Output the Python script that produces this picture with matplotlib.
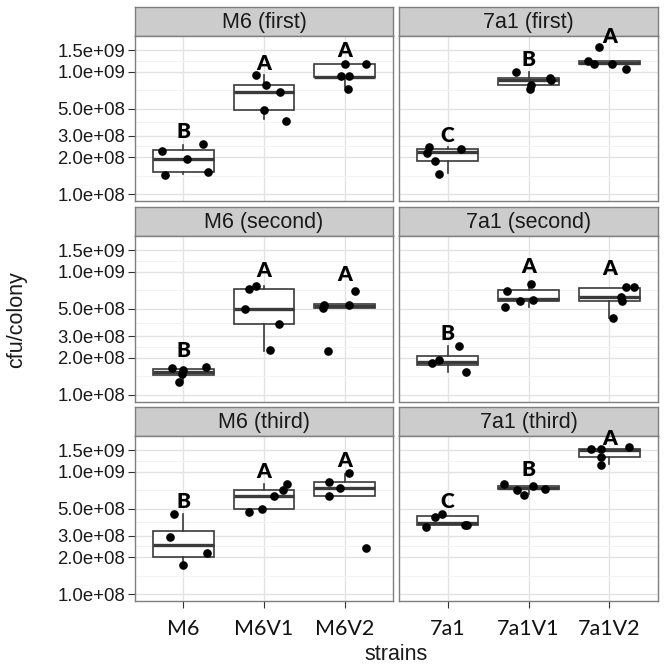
import numpy as np
import matplotlib
matplotlib.use('Agg')
import matplotlib.pyplot as plt
from matplotlib.ticker import NullFormatter, FixedLocator

# ---------------- data ----------------
strains_left = ['M6', 'M6V1', 'M6V2']
strains_right = ['7a1', '7a1V1', '7a1V2']
titles_left = ['M6 (first)', 'M6 (second)', 'M6 (third)']
titles_right = ['7a1 (first)', '7a1 (second)', '7a1 (third)']
ytick_values = [1.0e8, 2.0e8, 3.0e8, 5.0e8, 1.0e9, 1.5e9]
ytick_labels = ['1.0e+08', '2.0e+08', '3.0e+08', '5.0e+08', '1.0e+09', '1.5e+09']
x_title = 'strains'
y_title = 'cfu/colony'

# box stats per group: (whisker low, q1, median, q3, whisker high)
m6_first_box = [(1.46e8, 1.50e8, 1.93e8, 2.28e8, 2.51e8),
                (4.08e8, 4.83e8, 6.78e8, 7.78e8, 9.39e8),
                (7.45e8, 9.04e8, 9.10e8, 1.148e9, 1.16e9)]
m6_first_pts = [[2.26e8, 2.55e8, 1.93e8, 1.43e8, 1.50e8],
                [9.39e8, 7.78e8, 6.78e8, 4.83e8, 3.97e8],
                [1.148e9, 1.16e9, 9.16e8, 9.16e8, 7.21e8]]
m6_first_jit = [[-0.27, 0.24, 0.05, -0.23, 0.30],
                [-0.10, 0.02, 0.20, 0.00, 0.27],
                [0.00, 0.27, -0.05, 0.05, 0.04]]
m6_first_let = ['B', 'A', 'A']
m6_first_lety = [3.24e8, 1.17e9, 1.50e9]

a7_first_box = [(1.476e8, 1.88e8, 2.19e8, 2.32e8, 2.42e8),
                (7.30e8, 7.73e8, 8.55e8, 8.93e8, 9.87e8),
                (1.155e9, 1.155e9, 1.19e9, 1.23e9, 1.23e9)]
a7_first_pts = [[2.44e8, 2.15e8, 2.32e8, 1.87e8, 1.45e8],
                [9.87e8, 8.88e8, 8.55e8, 7.73e8, 7.18e8],
                [1.60e9, 1.23e9, 1.155e9, 1.16e9, 1.045e9]]
a7_first_jit = [[-0.23, -0.26, 0.17, -0.16, -0.11],
                [-0.16, 0.27, 0.28, 0.03, 0.02],
                [-0.13, -0.26, -0.19, 0.03, 0.21]]
a7_first_let = ['C', 'B', 'A']
a7_first_lety = [3.03e8, 1.26e9, 1.93e9]

m6_second_box = [(1.30e8, 1.466e8, 1.55e8, 1.64e8, 1.64e8),
                 (2.29e8, 3.78e8, 5.01e8, 7.31e8, 7.64e8),
                 (5.08e8, 5.08e8, 5.24e8, 5.45e8, 5.45e8)]
m6_second_pts = [[1.645e8, 1.59e8, 1.475e8, 1.70e8, 1.277e8],
                 [7.31e8, 7.64e8, 5.01e8, 3.78e8, 2.30e8],
                 [5.08e8, 5.37e8, 5.34e8, 7.00e8, 2.28e8]]
m6_second_jit = [[-0.14, 0.00, -0.02, 0.28, -0.06],
                 [-0.19, -0.10, -0.24, 0.19, 0.08],
                 [-0.27, -0.25, 0.06, 0.13, -0.21]]
m6_second_let = ['B', 'A', 'A']
m6_second_lety = [2.29e8, 1.02e9, 9.57e8]

a7_second_box = [(1.55e8, 1.757e8, 1.86e8, 2.06e8, 2.48e8),
                 (5.18e8, 5.79e8, 5.98e8, 7.08e8, 8.03e8),
                 (4.24e8, 5.83e8, 6.25e8, 7.45e8, 7.45e8)]
a7_second_pts = [[1.82e8, 1.93e8, 2.50e8, 1.535e8],
                 [7.04e8, 7.93e8, 5.83e8, 5.87e8, 5.15e8],
                 [7.54e8, 7.54e8, 6.25e8, 5.80e8, 4.24e8]]
a7_second_jit = [[-0.19, -0.10, 0.14, 0.23],
                 [-0.26, 0.03, -0.10, 0.05, -0.29],
                 [0.21, 0.30, 0.14, 0.15, 0.05]]
a7_second_let = ['B', 'A', 'A']
a7_second_lety = [3.17e8, 1.11e9, 1.065e9]

m6_third_box = [(1.73e8, 2.02e8, 2.53e8, 3.29e8, 4.51e8),
                (4.98e8, 4.98e8, 6.37e8, 7.08e8, 7.87e8),
                (6.37e8, 6.37e8, 7.31e8, 8.28e8, 9.57e8)]
m6_third_pts = [[4.54e8, 2.94e8, 2.15e8, 1.72e8],
                [7.87e8, 7.04e8, 6.37e8, 4.98e8, 4.65e8],
                [9.69e8, 8.28e8, 7.31e8, 6.37e8, 2.39e8]]
m6_third_jit = [[-0.12, -0.16, 0.29, 0.00],
                [0.29, 0.23, 0.13, -0.02, -0.19],
                [0.06, -0.19, -0.06, -0.19, 0.27]]
m6_third_let = ['B', 'A', 'A']
m6_third_lety = [5.69e8, 1.0e9, 1.245e9]

a7_third_box = [(3.67e8, 3.67e8, 3.78e8, 4.34e8, 4.34e8),
                (6.60e8, 7.17e8, 7.35e8, 7.59e8, 7.70e8),
                (1.155e9, 1.31e9, 1.50e9, 1.54e9, 1.54e9)]
a7_third_pts = [[4.29e8, 4.48e8, 3.55e8, 3.69e8, 3.67e8],
                [7.87e8, 7.13e8, 6.49e8, 7.62e8, 7.26e8],
                [1.54e9, 1.53e9, 1.32e9, 1.14e9, 1.58e9]]
a7_third_jit = [[-0.16, -0.07, -0.27, 0.22, 0.24],
                [-0.30, -0.14, -0.06, 0.05, 0.21],
                [-0.23, -0.11, -0.10, -0.11, 0.24]]
a7_third_let = ['C', 'B', 'A']
a7_third_lety = [5.69e8, 1.045e9, 1.87e9]

ylim = (8.77e7, 1.96e9)

# ---------------- layout ----------------
FW = FH = 667.0
fig = plt.figure(figsize=(6.67, 6.67), dpi=100)
fig.patch.set_facecolor('white')

col_x = [(135, 393), (399, 658)]
rows = [(7, 36, 201), (207, 236, 402), (407, 436, 601)]  # strip top, panel top, panel bottom

SANS = ['Liberation Sans', 'DejaVu Sans']
LABF = ['Lato', 'DejaVu Sans']
GRAY50 = '#7f7f7f'
BOXC = '#3a3a3a'

panels = [
    [(m6_first_box, m6_first_pts, m6_first_jit, m6_first_let, m6_first_lety),
     (a7_first_box, a7_first_pts, a7_first_jit, a7_first_let, a7_first_lety)],
    [(m6_second_box, m6_second_pts, m6_second_jit, m6_second_let, m6_second_lety),
     (a7_second_box, a7_second_pts, a7_second_jit, a7_second_let, a7_second_lety)],
    [(m6_third_box, m6_third_pts, m6_third_jit, m6_third_let, m6_third_lety),
     (a7_third_box, a7_third_pts, a7_third_jit, a7_third_let, a7_third_lety)],
]
titles = [[titles_left[i], titles_right[i]] for i in range(3)]
strains = [strains_left, strains_right]

logt = np.log10(ytick_values)
minor_vals = [10 ** ((logt[i] + logt[i + 1]) / 2) for i in range(len(logt) - 1)]

for r, (st, pt, pb) in enumerate(rows):
    for c, (x0, x1) in enumerate(col_x):
        box, pts, jit, lets, lety = panels[r][c]
        ax = fig.add_axes([x0 / FW, 1 - pb / FH, (x1 - x0) / FW, (pb - pt) / FH])
        ax.set_facecolor('white')
        ax.set_yscale('log')

        stats = []
        for (wl, q1, med, q3, wh) in box:
            stats.append(dict(whislo=wl, q1=q1, med=med, q3=q3, whishi=wh, fliers=[]))
        ax.bxp(stats, positions=[1, 2, 3], widths=0.75, showfliers=False, showcaps=False,
               patch_artist=True, manage_ticks=False,
               boxprops=dict(facecolor='white', edgecolor=BOXC, linewidth=1.2),
               medianprops=dict(color=BOXC, linewidth=2.4, solid_capstyle='butt'),
               whiskerprops=dict(color=BOXC, linewidth=1.2), zorder=2)

        for g in range(3):
            xs = [g + 1 + j for j in jit[g]]
            ax.plot(xs, pts[g], 'o', color='black', markersize=5.2, zorder=4, clip_on=False)
            ax.text(g + 1, lety[g], lets[g], ha='center', va='center', fontsize=15,
                    fontweight='heavy', family=LABF, color='black', zorder=5, clip_on=False)

        ax.set_xlim(0.4, 3.6)
        ax.set_ylim(*ylim)
        ax.yaxis.set_major_locator(FixedLocator(ytick_values))
        ax.yaxis.set_minor_locator(FixedLocator(minor_vals))
        ax.yaxis.set_minor_formatter(NullFormatter())
        ax.set_yticklabels(ytick_labels if c == 0 else [''] * len(ytick_values))
        ax.set_xticks([1, 2, 3])
        ax.set_xticklabels(strains[c] if r == 2 else ['', '', ''])
        ax.grid(True, which='major', color='#e3e3e3', linewidth=1.0, zorder=0)
        ax.grid(True, which='minor', axis='y', color='#f2f2f2', linewidth=0.7, zorder=0)
        ax.set_axisbelow(True)
        ax.tick_params(axis='y', which='minor', length=0)
        ax.tick_params(axis='y', which='major', length=5.3 if c == 0 else 0, width=0.8,
                       color='#333333', pad=1.7, labelsize=13.4, labelcolor='#1a1a1a')
        ax.tick_params(axis='x', which='major', length=5.0 if r == 2 else 0, width=0.8,
                       color='#333333', pad=8, labelsize=15.5, labelcolor='#111111')
        for lab in ax.get_yticklabels():
            lab.set_family(SANS)
        for lab in ax.get_xticklabels():
            lab.set_family(LABF)
        for sp in ax.spines.values():
            sp.set_color(GRAY50)
            sp.set_linewidth(1.0)

        # strip
        sax = fig.add_axes([x0 / FW, 1 - pt / FH, (x1 - x0) / FW, (pt - st) / FH])
        sax.set_facecolor('#cccccc')
        sax.set_xticks([])
        sax.set_yticks([])
        for sp in sax.spines.values():
            sp.set_color(GRAY50)
            sp.set_linewidth(1.0)
        sax.text(0.5, 0.47, titles[r][c], transform=sax.transAxes, ha='center', va='center',
                 fontsize=15.5, family=SANS, color='#1a1a1a')
        sax.set_zorder(-1)

fig.text(396.5 / FW, 7 / FH, x_title, ha='center', va='baseline', fontsize=15.5,
         family=SANS, color='#1a1a1a')
fig.text(17 / FW, 1 - 320 / FH, y_title, ha='center', va='center', rotation=90,
         fontsize=15.5, family=SANS, color='#1a1a1a')

fig.savefig('out.png', dpi=100, facecolor='white')
